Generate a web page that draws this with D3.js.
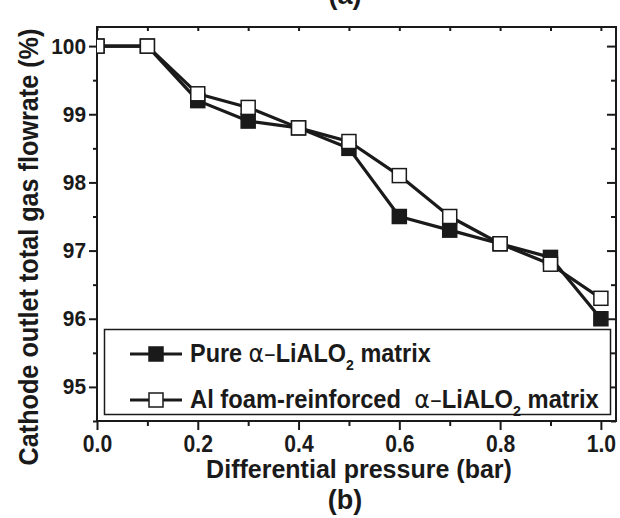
<!DOCTYPE html>
<html>
<head>
<meta charset="utf-8">
<script src="https://cdn.jsdelivr.net/npm/d3@7/dist/d3.min.js"></script>
<style>
  html, body { margin: 0; padding: 0; background: #fff; }
  svg { display: block; }
  text { font-family: "Liberation Sans", Arial, sans-serif; font-weight: bold; fill: #1a1a1a; }
</style>
</head>
<body>
<svg id="chart" width="620" height="518"></svg>
<script>
// Differential pressure steps (bar)
const pressure = [0, 0.1, 0.2, 0.3, 0.4, 0.5, 0.6, 0.7, 0.8, 0.9, 1.0];
// Cathode outlet total gas flowrate (%) for each matrix
const pureMatrix = [100, 100, 99.2, 98.9, 98.8, 98.5, 97.5, 97.3, 97.1, 96.9, 96.0];
const foamMatrix = [100, 100, 99.3, 99.1, 98.8, 98.6, 98.1, 97.5, 97.1, 96.8, 96.3];
const xTicks = [0, 0.2, 0.4, 0.6, 0.8, 1.0];
const xMinorTicks = [0.1, 0.3, 0.5, 0.7, 0.9];
const yTicks = [95, 96, 97, 98, 99, 100];
const yMinorTicks = [94.5, 95.5, 96.5, 97.5, 98.5, 99.5];
const seriesNames = ["Pure", "Al foam-reinforced\u00a0"];

const svg = d3.select("#chart");
const ink = "#1a1a1a";
const plot = { left: 97, right: 616, top: 27, bottom: 421 };

const x = d3.scaleLinear().domain([0, 1.03]).range([plot.left, plot.right]);
const y = d3.scaleLinear().domain([94.5, 100.28]).range([plot.bottom, plot.top]);

// squeeze a text group horizontally to a given width
function fitWidth(g, width) {
  const w = g.node().getBBox().width;
  const t = g.attr("data-t");
  g.attr("transform", t + ` scale(${width / w},1)`);
}

// clip region for the data
svg.append("defs").append("clipPath").attr("id", "plotClip")
  .append("rect")
  .attr("x", plot.left).attr("y", plot.top)
  .attr("width", plot.right - plot.left).attr("height", plot.bottom - plot.top);

// axes
function styleAxis(g) {
  g.select(".domain").remove();
  g.selectAll(".tick line").attr("stroke", ink).attr("stroke-width", 2);
}
function styleLabels(size, sx) {
  return g => g.selectAll("text")
    .attr("font-size", size)
    .attr("font-family", "Liberation Sans, Arial, sans-serif")
    .attr("font-weight", "bold").attr("fill", ink)
    .each(function () {
      // condense each label about its own anchor point
      const el = d3.select(this);
      const ax = +el.attr("x") || 0, ay = +el.attr("y") || 0;
      el.attr("transform", `translate(${ax},${ay}) scale(${sx},1) translate(${-ax},${-ay})`);
    });
}

const fmtX = d3.format(".1f");
svg.append("g").attr("transform", `translate(0,${plot.bottom})`)
  .call(d3.axisBottom(x).tickValues(xTicks).tickSize(9).tickPadding(6).tickFormat(fmtX))
  .call(styleAxis)
  .call(styleLabels(23, 0.92));
svg.append("g").attr("transform", `translate(0,${plot.bottom})`)
  .call(d3.axisBottom(x).tickValues(xMinorTicks).tickSize(5).tickFormat(""))
  .call(styleAxis);
svg.append("g").attr("transform", `translate(0,${plot.top})`)
  .call(d3.axisBottom(x).tickValues(xTicks.concat(xMinorTicks)).tickSize(4).tickFormat(""))
  .call(styleAxis);

svg.append("g").attr("transform", `translate(${plot.left},0)`)
  .call(d3.axisLeft(y).tickValues(yTicks).tickSize(8).tickPadding(3).tickFormat(d3.format("d")))
  .call(styleAxis)
  .call(styleLabels(22, 0.95));
svg.append("g").attr("transform", `translate(${plot.left},0)`)
  .call(d3.axisLeft(y).tickValues(yMinorTicks).tickSize(4).tickFormat(""))
  .call(styleAxis);
svg.append("g").attr("transform", `translate(${plot.right},0)`)
  .call(d3.axisLeft(y).tickValues(yTicks).tickSize(9).tickFormat(""))
  .call(styleAxis);
svg.append("g").attr("transform", `translate(${plot.right},0)`)
  .call(d3.axisLeft(y).tickValues(yMinorTicks).tickSize(5).tickFormat(""))
  .call(styleAxis);

// frame
svg.append("rect")
  .attr("x", plot.left).attr("y", plot.top)
  .attr("width", plot.right - plot.left).attr("height", plot.bottom - plot.top)
  .attr("fill", "none").attr("stroke", ink).attr("stroke-width", 2);

// data
const line = d3.line().x(d => x(d[0])).y(d => y(d[1]));
const series = [
  { values: pureMatrix, fill: ink },
  { values: foamMatrix, fill: "#fff" }
];
const ms = 14;
const dataG = svg.append("g").attr("clip-path", "url(#plotClip)");
series.forEach(s => {
  const pts = pressure.map((p, i) => [p, s.values[i]]);
  dataG.append("path").datum(pts).attr("d", line)
    .attr("fill", "none").attr("stroke", ink).attr("stroke-width", 3.2)
    .attr("stroke-linejoin", "round");
  dataG.selectAll(null).data(pts).enter().append("rect")
    .attr("x", d => x(d[0]) - ms / 2).attr("y", d => y(d[1]) - ms / 2)
    .attr("width", ms).attr("height", ms)
    .attr("fill", s.fill).attr("stroke", ink).attr("stroke-width", 1.5);
});

// legend
svg.append("rect").attr("x", 104.5).attr("y", 329.5).attr("width", 506).attr("height", 85)
  .attr("fill", "#fff").attr("stroke", ink).attr("stroke-width", 1.5);
const legendRows = [
  { name: seriesNames[0], fill: ink, cy: 354, width: 241 },
  { name: seriesNames[1], fill: "#fff", cy: 400, width: 409 }
];
legendRows.forEach(r => {
  svg.append("line").attr("x1", 130).attr("x2", 182).attr("y1", r.cy).attr("y2", r.cy)
    .attr("stroke", ink).attr("stroke-width", 3);
  svg.append("rect").attr("x", 156 - ms / 2).attr("y", r.cy - ms / 2)
    .attr("width", ms).attr("height", ms)
    .attr("fill", r.fill).attr("stroke", ink).attr("stroke-width", 1.5);
  const g = svg.append("g").attr("data-t", `translate(190,${r.cy + 8})`).attr("transform", `translate(190,${r.cy + 8})`);
  const t = g.append("text").attr("font-size", 25).attr("xml:space", "preserve");
  t.append("tspan").text(r.name + " ");
  t.append("tspan").attr("font-weight", "normal").attr("font-family", "DejaVu Sans, sans-serif").text("α–");
  t.append("tspan").text("LiALO");
  t.append("tspan").attr("font-size", 15).attr("dy", 8).text("2");
  t.append("tspan").attr("dy", -8).text(" matrix");
  fitWidth(g, r.width);
});

// axis titles
const xt = svg.append("g").attr("data-t", "translate(359,478)").attr("transform", "translate(359,478)");
xt.append("text").attr("text-anchor", "middle").attr("font-size", 26).text("Differential pressure (bar)");
fitWidth(xt, 306);

const yt = svg.append("g").attr("data-t", "translate(38,247) rotate(-90)").attr("transform", "translate(38,247) rotate(-90)");
yt.append("text").attr("text-anchor", "middle").attr("font-size", 27).text("Cathode outlet total gas flowrate (%)");
fitWidth(yt, 437);

// panel labels
svg.append("text").attr("x", 345).attr("y", 509).attr("text-anchor", "middle").attr("font-size", 27).text("(b)");
svg.append("text").attr("x", 345).attr("y", 4).attr("text-anchor", "middle").attr("font-size", 27).text("(a)");
</script>
</body>
</html>
